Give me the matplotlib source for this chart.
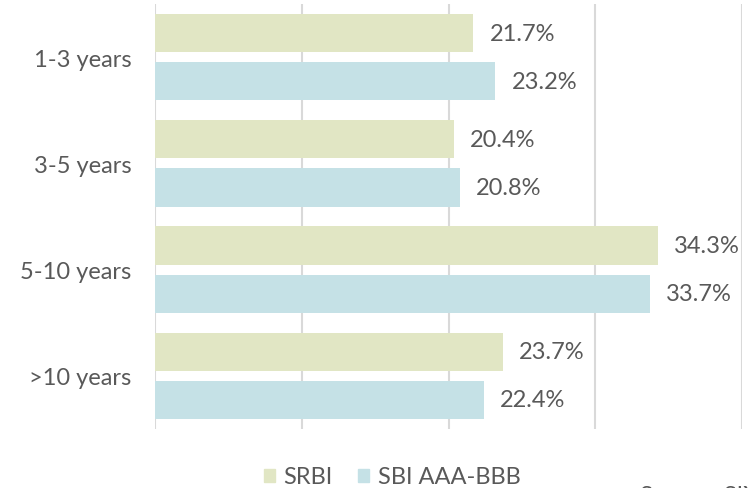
import numpy as np
import matplotlib.pyplot as plt
from matplotlib.patches import Patch

# data
categories = ['1-3 years', '3-5 years', '5-10 years', '>10 years']
srbi = [21.7, 20.4, 34.3, 23.7]
sbi = [23.2, 20.8, 33.7, 22.4]
series_names = ['SRBI', 'SBI AAA-BBB']
source_text = 'Source: SIX'

col_srbi = '#E1E6C4'
col_sbi = '#C5E1E6'
txt_col = '#595959'
fs = 17

plt.rcParams['font.family'] = ['Lato', 'DejaVu Sans']

fig = plt.figure(figsize=(7.54, 4.89), dpi=100)
ax = fig.add_axes([155 / 754, 1 - 430 / 489, (742 - 155) / 754, 425 / 489])

y = np.arange(len(categories))
h = 0.358
off = 0.227
b1 = ax.barh(y - off, srbi, height=h, color=col_srbi, zorder=2)
b2 = ax.barh(y + off, sbi, height=h, color=col_sbi, zorder=2)

for bars, vals in [(b1, srbi), (b2, sbi)]:
    for rect, v in zip(bars, vals):
        ax.annotate('%.1f%%' % v, (v, rect.get_y() + rect.get_height() / 2),
                    xytext=(11.5, 0), textcoords='offset points',
                    va='center', ha='left', fontsize=fs, color=txt_col)

ax.set_xlim(0, 40)
ax.set_ylim(3.5, -0.5)
ax.set_xticks([0, 10, 20, 30, 40])
ax.set_xticklabels([])
ax.set_yticks(y)
ax.set_yticklabels(categories, fontsize=fs, color=txt_col)
ax.tick_params(axis='both', length=0)
ax.tick_params(axis='y', pad=17)
ax.grid(axis='x', color='#D9D9D9', linewidth=1.5, zorder=0)
for s in ax.spines.values():
    s.set_visible(False)

handles = [Patch(color=col_srbi), Patch(color=col_sbi)]
leg = fig.legend(handles, series_names, loc='center', ncol=2, frameon=False,
                 bbox_to_anchor=(392 / 754, 1 - 478 / 489), fontsize=fs,
                 handlelength=0.47, handleheight=0.47, handletextpad=0.35,
                 columnspacing=1.1, borderpad=0)
for t in leg.get_texts():
    t.set_color(txt_col)

fig.text(640 / 754, 1 - 486 / 489, source_text, ha='left', va='top',
         fontsize=fs, color=txt_col)

fig.savefig('out.png', dpi=100)
